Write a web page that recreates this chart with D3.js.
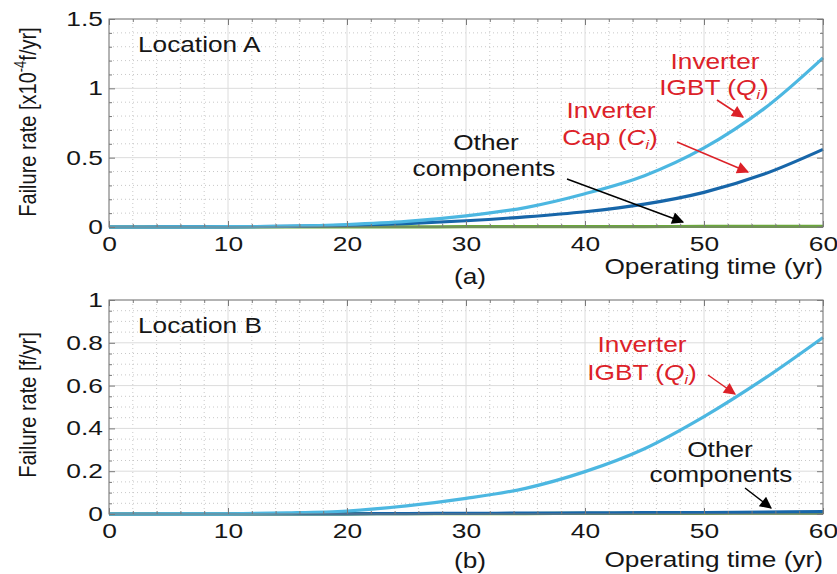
<!DOCTYPE html>
<html>
<head>
<meta charset="utf-8">
<script src="https://cdn.jsdelivr.net/npm/d3@7"></script>
<style>
  body { margin: 0; background: #fff; }
  svg { display: block; font-family: "Liberation Sans", Arial, sans-serif; }
</style>
</head>
<body>
<svg width="837" height="574"></svg>
<script>
// Operating time (yr), sampled every 5 years
const years = [0, 5, 10, 15, 20, 25, 30, 35, 40, 45, 50, 55, 60]

// Location A, failure rate in 1e-4 f/yr
const igbtA = [0, 0.0002, 0.002, 0.006, 0.018, 0.04, 0.08, 0.14, 0.24, 0.37, 0.57, 0.85, 1.22]
const capA = [0, 0.0002, 0.001, 0.004, 0.012, 0.025, 0.045, 0.073, 0.11, 0.165, 0.25, 0.38, 0.56]
const otherA = [0, 0, 0, 0.0005, 0.001, 0.001, 0.002, 0.002, 0.003, 0.003, 0.004, 0.004, 0.005]

// Location B, failure rate in f/yr
const igbtB = [0, 0.0002, 0.001, 0.005, 0.014, 0.038, 0.073, 0.12, 0.198, 0.305, 0.455, 0.63, 0.825]
const capB = [0, 0, 0, 0.0005, 0.001, 0.002, 0.003, 0.004, 0.005, 0.006, 0.007, 0.009, 0.011]
const otherB = [0, 0, 0, 0.001, 0.001, 0.002, 0.002, 0.002, 0.003, 0.003, 0.003, 0.004, 0.004]

const xTicks = [0, 10, 20, 30, 40, 50, 60]
const yTicksA = [0, 0.5, 1, 1.5]
const yTicksB = [0, 0.2, 0.4, 0.6, 0.8, 1]

const colors = { igbt: '#4cb7e1', cap: '#1766a9', other: '#6aa83a' }
const red = '#dc2128'
const ink = '#161616'

// the source figure is stretched sideways, so text gets a horizontal scale
const textScale = 1.22
const tickScale = 1.32

const svg = d3.select('svg')

// Arrow heads for the annotations
const defs = svg.append('defs')
const marker = (id, color) =>
  defs
    .append('marker')
    .attr('id', id)
    .attr('viewBox', '0 0 10 10')
    .attr('refX', 9)
    .attr('refY', 5)
    .attr('markerUnits', 'userSpaceOnUse')
    .attr('markerWidth', 16)
    .attr('markerHeight', 12)
    .attr('orient', 'auto')
    .append('path')
    .attr('d', 'M0,0 L10,5 L0,10 z')
    .attr('fill', color)
marker('arrow-red', red)
marker('arrow-black', '#000')

const x = d3.scaleLinear().domain([0, 60]).range([109, 823])

const text = (g, px, py, anchor = 'start', size = 21.5, color = ink) =>
  g.append('text')
    .attr('transform', `translate(${px},${py}) scale(${textScale},1)`)
    .attr('text-anchor', anchor)
    .attr('font-size', size)
    .attr('fill', color)

const drawPanel = ({ yTop, yBottom, yMax, yTicks, yMinorStep, series, label, location, xLabelY, subLabelY }) => {
  const y = d3.scaleLinear().domain([0, yMax]).range([yBottom, yTop])
  const g = svg.append('g')
  const [x0, x1] = x.range()

  const xMinor = d3.range(0, 61, 2).filter(d => d % 10 !== 0)
  const yMinor = d3.range(0, yMax + 1e-9, yMinorStep).filter(d => !yTicks.some(t => Math.abs(t - d) < 1e-9))

  // Dotted minor grid, then solid major grid
  g.selectAll('.gx-minor').data(xMinor).join('line')
    .attr('x1', d => x(d)).attr('x2', d => x(d))
    .attr('y1', yTop).attr('y2', yBottom)
    .attr('stroke', '#c8c8c8').attr('stroke-dasharray', '1,3')
  g.selectAll('.gy-minor').data(yMinor).join('line')
    .attr('x1', x0).attr('x2', x1)
    .attr('y1', d => y(d)).attr('y2', d => y(d))
    .attr('stroke', '#c8c8c8').attr('stroke-dasharray', '1,3')
  g.selectAll('.gx').data(xTicks).join('line')
    .attr('x1', d => x(d)).attr('x2', d => x(d))
    .attr('y1', yTop).attr('y2', yBottom)
    .attr('stroke', '#dcdcdc')
  g.selectAll('.gy').data(yTicks).join('line')
    .attr('x1', x0).attr('x2', x1)
    .attr('y1', d => y(d)).attr('y2', d => y(d))
    .attr('stroke', '#dcdcdc')

  // Curves
  const line = d3.line()
    .x((d, i) => x(years[i]))
    .y(d => y(d))
    .curve(d3.curveCatmullRom.alpha(0.5))
  series.forEach(s => {
    g.append('path')
      .attr('d', line(s.values))
      .attr('fill', 'none')
      .attr('stroke', s.color)
      .attr('stroke-width', 3.2)
      .attr('stroke-linejoin', 'round')
  })

  // Box axes with inward ticks on all four sides
  const axisStyle = sel => {
    sel.select('.domain').remove()
    sel.selectAll('.tick line').attr('stroke', '#7a7a7a')
    sel.selectAll('.tick text')
      .attr('fill', ink)
      .attr('font-size', 20)
      .attr('x', function () { return (+this.getAttribute('x') || 0) / tickScale })
      .attr('transform', `scale(${tickScale},1)`)
  }
  const axis = (make, pos, values, size, fmt, pad = 3) =>
    g.append('g').attr('transform', pos)
      .call(make.tickValues(values).tickSize(size).tickPadding(pad).tickFormat(fmt))
      .call(axisStyle)

  axis(d3.axisBottom(x), `translate(0,${yBottom})`, xTicks, -6, d3.format('d'), 10)
  axis(d3.axisBottom(x), `translate(0,${yBottom})`, xMinor, -3, '')
  axis(d3.axisTop(x), `translate(0,${yTop})`, xTicks, -6, '')
  axis(d3.axisTop(x), `translate(0,${yTop})`, xMinor, -3, '')
  axis(d3.axisLeft(y), `translate(${x0},0)`, yTicks, -6, d3.format(''), 6)
  axis(d3.axisLeft(y), `translate(${x0},0)`, yMinor, -3, '')
  axis(d3.axisRight(y), `translate(${x1},0)`, yTicks, -6, '')
  axis(d3.axisRight(y), `translate(${x1},0)`, yMinor, -3, '')

  g.append('rect')
    .attr('x', x0).attr('y', yTop)
    .attr('width', x1 - x0).attr('height', yBottom - yTop)
    .attr('fill', 'none').attr('stroke', '#7a7a7a')

  // Panel texts
  text(g, 138, yTop + 33).text(location)
  text(g, x1, xLabelY, 'end').text('Operating time (yr)')
  text(g, 470, subLabelY, 'middle').text(label)

  return { g, y }
}

const yLabel = (cy, build) => {
  const t = svg.append('text')
    .attr('transform', `translate(36,${cy}) rotate(-90) scale(1,1.2)`)
    .attr('text-anchor', 'middle')
    .attr('font-size', 20)
    .attr('fill', ink)
  build(t)
}

const note = (g, lines, color) => {
  lines.forEach(l => {
    const t = text(g, l.x, l.y, 'middle', 21.5, color)
    if (l.sym) {
      t.append('tspan').text(l.text)
      t.append('tspan').attr('font-style', 'italic').text(l.sym)
      t.append('tspan').attr('font-style', 'italic').attr('font-size', 13).attr('dy', 4).text('i')
      t.append('tspan').attr('dy', -4).text(')')
    } else {
      t.text(l.text)
    }
  })
}

const arrow = (g, [x1, y1, x2, y2], color, id) =>
  g.append('line')
    .attr('x1', x1).attr('y1', y1).attr('x2', x2).attr('y2', y2)
    .attr('stroke', color).attr('stroke-width', 1.5)
    .attr('marker-end', `url(#${id})`)

// Panel (a), Location A
const a = drawPanel({
  yTop: 19, yBottom: 227, yMax: 1.5, yTicks: yTicksA, yMinorStep: 0.1,
  series: [
    { values: otherA, color: colors.other },
    { values: capA, color: colors.cap },
    { values: igbtA, color: colors.igbt },
  ],
  label: '(a)', location: 'Location A', xLabelY: 274, subLabelY: 284,
})
yLabel(122, t => {
  t.append('tspan').text('Failure rate  [x10')
  t.append('tspan').attr('font-size', 13).attr('dy', -8).text('-4')
  t.append('tspan').attr('dy', 8).text('f/yr]')
})
note(a.g, [{ x: 715, y: 69, text: 'Inverter' }, { x: 714, y: 95, text: 'IGBT (', sym: 'Q' }], red)
note(a.g, [{ x: 611, y: 118, text: 'Inverter' }, { x: 610, y: 145, text: 'Cap (', sym: 'C' }], red)
note(a.g, [{ x: 486, y: 150, text: 'Other' }, { x: 484, y: 176, text: 'components' }], ink)
arrow(a.g, [717, 100, 743, 117], red, 'arrow-red')
arrow(a.g, [677, 142, 748, 172], red, 'arrow-red')
arrow(a.g, [567, 179, 683, 222], '#000', 'arrow-black')

// Panel (b), Location B
const b = drawPanel({
  yTop: 300, yBottom: 514, yMax: 1, yTicks: yTicksB, yMinorStep: 0.05,
  series: [
    { values: otherB, color: colors.other },
    { values: capB, color: colors.cap },
    { values: igbtB, color: colors.igbt },
  ],
  label: '(b)', location: 'Location B', xLabelY: 567, subLabelY: 568,
})
yLabel(405, t => t.text('Failure rate  [f/yr]'))
note(b.g, [{ x: 642, y: 352, text: 'Inverter' }, { x: 642, y: 380, text: 'IGBT (', sym: 'Q' }], red)
note(b.g, [{ x: 720, y: 457, text: 'Other' }, { x: 721, y: 482, text: 'components' }], ink)
arrow(b.g, [708, 375, 735, 394], red, 'arrow-red')
arrow(b.g, [745, 488, 771, 508], '#000', 'arrow-black')
</script>
</body>
</html>
